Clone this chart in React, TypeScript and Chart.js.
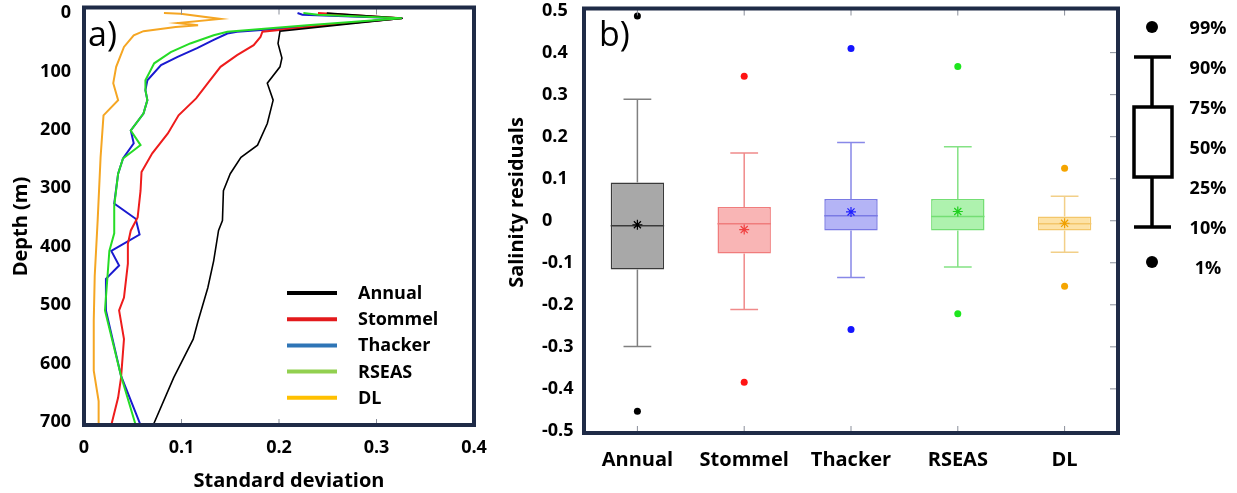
import React, { useEffect, useRef } from 'react';
import { Chart, registerables } from 'chart.js';
Chart.register(...registerables);

const FONT = '"Open Sans", "DejaVu Sans", sans-serif';
const FRAME = '#1f2b47';

// ---------- Panel a: standard deviation profiles ----------
const depthTickValues = [0, 100, 200, 300, 400, 500, 600, 700];
const depthTickLabels = ['0', '100', '200', '300', '400', '500', '600', '700'];
const sdTickValues = [0, 0.1, 0.2, 0.3, 0.4];
const sdTickLabels = ['0', '0.1', '0.2', '0.3', '0.4'];

const profileNames = ['Annual', 'Stommel', 'Thacker', 'RSEAS', 'DL'];
const profileLineColors = ['#000000', '#ee1c1c', '#1a1ad0', '#26dc26', '#f5a623'];
const profileLegendColors = ['#000000', '#e31a1c', '#2e75b6', '#92d050', '#ffc000'];

const annualDepth = [0, 9, 22, 31, 52, 77, 92, 120, 149, 189, 226, 247, 275, 304, 355, 372, 424, 470, 527, 558, 624, 705];
const annualSd = [0.249, 0.327, 0.252, 0.201, 0.199, 0.203, 0.201, 0.188, 0.194, 0.188, 0.178, 0.161, 0.150, 0.143, 0.142, 0.138, 0.133, 0.127, 0.117, 0.112, 0.092, 0.071];

const stommelDepth = [0, 9, 23, 32, 41, 55, 72, 92, 120, 146, 175, 206, 240, 272, 304, 350, 372, 395, 429, 487, 509, 558, 624, 658, 705];
const stommelSd = [0.240, 0.326, 0.235, 0.183, 0.181, 0.174, 0.157, 0.140, 0.127, 0.115, 0.097, 0.086, 0.070, 0.059, 0.058, 0.055, 0.048, 0.045, 0.045, 0.041, 0.036, 0.041, 0.038, 0.035, 0.028];

const thackerDepth = [0, 3, 9, 23, 32, 35, 46, 60, 75, 89, 115, 132, 149, 172, 201, 223, 249, 275, 326, 352, 379, 407, 432, 455, 509, 621, 705];
const thackerSd = [0.219, 0.224, 0.326, 0.232, 0.157, 0.147, 0.133, 0.116, 0.096, 0.079, 0.065, 0.063, 0.065, 0.061, 0.048, 0.051, 0.040, 0.035, 0.031, 0.053, 0.057, 0.028, 0.036, 0.0225, 0.0225, 0.038, 0.058];

const rseasDepth = [0, 3, 9, 21, 32, 38, 52, 67, 86, 115, 132, 149, 172, 201, 226, 249, 275, 330, 377, 407, 453, 509, 621, 705];
const rseasSd = [0.225, 0.240, 0.326, 0.229, 0.147, 0.133, 0.109, 0.089, 0.072, 0.063, 0.063, 0.065, 0.061, 0.048, 0.058, 0.040, 0.035, 0.031, 0.031, 0.026, 0.024, 0.0215, 0.038, 0.053];

const dlDepth = [0, 1, 10, 17, 21, 24, 31, 38, 58, 92, 120, 149, 175, 247, 355, 450, 527, 612, 664, 705];
const dlSd = [0.082, 0.099, 0.140, 0.096, 0.117, 0.094, 0.061, 0.051, 0.041, 0.033, 0.030, 0.035, 0.020, 0.017, 0.014, 0.011, 0.010, 0.010, 0.015, 0.015];

// ---------- Panel b: salinity residual box plots ----------
const categories = ['Annual', 'Stommel', 'Thacker', 'RSEAS', 'DL'];
const residualTickValues = [0.5, 0.4, 0.3, 0.2, 0.1, 0, -0.1, -0.2, -0.3, -0.4, -0.5];
const residualTickLabels = ['0.5', '0.4', '0.3', '0.2', '0.1', '0', '-0.1', '-0.2', '-0.3', '-0.4', '-0.5'];
const p99 = [0.487, 0.344, 0.410, 0.367, 0.125];
const p90 = [0.289, 0.161, 0.186, 0.176, 0.058];
const p75 = [0.091, 0.033, 0.052, 0.052, 0.010];
const p50 = [-0.012, -0.007, 0.012, 0.010, -0.007];
const meanVals = [-0.0095, -0.021, 0.021, 0.022, -0.006];
const p25 = [-0.116, -0.078, -0.023, -0.023, -0.023];
const p10 = [-0.299, -0.211, -0.135, -0.110, -0.075];
const p1 = [-0.453, -0.384, -0.259, -0.221, -0.156];

const boxFill = ['#a8a8a8', '#f9b5b5', '#b4b4f6', '#aef2ae', '#fde2a6'];
const boxEdge = ['#3a3a3a', '#f07c7c', '#7a7ae4', '#74de74', '#f3c66a'];
const whiskerColors = ['#808080', '#f08a8a', '#8888e8', '#84e284', '#f2cf88'];
const dotColors = ['#000000', '#ff1414', '#1414ff', '#1ee61e', '#f5a500'];
const meanColors = ['#000000', '#f04040', '#2020ff', '#20d020', '#f0a000'];

const legendLabels = ['99%', '90%', '75%', '50%', '25%', '10%', '1%'];

const LEFT_W = 495;
const RIGHT_W = 1237 - LEFT_W;

function drawFrame(ctx: CanvasRenderingContext2D, a: any) {
  ctx.save();
  ctx.strokeStyle = FRAME;
  ctx.lineWidth = 4;
  ctx.strokeRect(a.left, a.top, a.right - a.left, a.bottom - a.top);
  ctx.restore();
}

function zeroPad(s: any) {
  s.paddingTop = 0;
  s.paddingBottom = 0;
  s.paddingLeft = 0;
  s.paddingRight = 0;
}

const panelAPlugin = {
  id: 'panelA',
  afterDraw(chart: any) {
    const { ctx, chartArea: a, scales } = chart;
    const x = scales.x;
    ctx.save();
    ctx.strokeStyle = '#8a8f9a';
    ctx.lineWidth = 1;
    sdTickValues.slice(1, -1).forEach((v) => {
      const px = x.getPixelForValue(v);
      ctx.beginPath();
      ctx.moveTo(px, a.top);
      ctx.lineTo(px, a.top + 7);
      ctx.moveTo(px, a.bottom);
      ctx.lineTo(px, a.bottom - 6);
      ctx.stroke();
    });
    drawFrame(ctx, a);

    // legend
    profileNames.forEach((n, i) => {
      const ly = 293 + i * 26.2;
      ctx.strokeStyle = profileLegendColors[i];
      ctx.lineWidth = 4;
      ctx.beginPath();
      ctx.moveTo(287, ly);
      ctx.lineTo(337, ly);
      ctx.stroke();
      ctx.fillStyle = '#000';
      ctx.font = `bold 18px ${FONT}`;
      ctx.textAlign = 'left';
      ctx.textBaseline = 'alphabetic';
      ctx.fillText(n, 358, ly + 6);
    });

    // axis titles
    ctx.fillStyle = '#000';
    ctx.font = `bold 20px ${FONT}`;
    ctx.textAlign = 'center';
    ctx.textBaseline = 'alphabetic';
    ctx.fillText('Standard deviation', 289, 487);
    ctx.save();
    ctx.translate(27, 226.5);
    ctx.rotate(-Math.PI / 2);
    ctx.fillText('Depth (m)', 0, 0);
    ctx.restore();

    ctx.font = `34px ${FONT}`;
    ctx.textAlign = 'left';
    ctx.fillText('a)', 88, 46);
    ctx.restore();
  },
};

const panelBPlugin = {
  id: 'panelB',
  afterDatasetDraw(chart: any, args: any) {
    if (args.index !== 0) return;
    const { ctx, scales } = chart;
    const x = scales.x;
    const y = scales.y;
    const cw = x.getPixelForValue(1) - x.getPixelForValue(0);
    ctx.save();
    categories.forEach((_, i) => {
      const cx = x.getPixelForValue(i);
      const half = cw * 0.13;
      const y75 = y.getPixelForValue(p75[i]);
      const y90 = y.getPixelForValue(p90[i]);
      const y25 = y.getPixelForValue(p25[i]);
      const y10 = y.getPixelForValue(p10[i]);
      ctx.strokeStyle = whiskerColors[i];
      ctx.lineWidth = 1.5;
      ctx.beginPath();
      ctx.moveTo(cx, y75);
      ctx.lineTo(cx, y90);
      ctx.moveTo(cx - half, y90);
      ctx.lineTo(cx + half, y90);
      ctx.moveTo(cx, y25);
      ctx.lineTo(cx, y10);
      ctx.moveTo(cx - half, y10);
      ctx.lineTo(cx + half, y10);
      ctx.stroke();
      const bw = cw * 0.25;
      const ym = y.getPixelForValue(p50[i]);
      ctx.strokeStyle = boxEdge[i];
      ctx.beginPath();
      ctx.moveTo(cx - bw, ym);
      ctx.lineTo(cx + bw, ym);
      ctx.stroke();
    });
    ctx.restore();
  },
  afterDraw(chart: any) {
    const { ctx, chartArea: a, scales } = chart;
    const x = scales.x;
    const y = scales.y;
    ctx.save();
    ctx.strokeStyle = '#8a8f9a';
    ctx.lineWidth = 1;
    categories.forEach((_, i) => {
      const px = x.getPixelForValue(i);
      ctx.beginPath();
      ctx.moveTo(px, a.top);
      ctx.lineTo(px, a.top + 7);
      ctx.moveTo(px, a.bottom);
      ctx.lineTo(px, a.bottom - 7);
      ctx.stroke();
    });
    residualTickValues.slice(1, -1).forEach((v) => {
      const py = y.getPixelForValue(v);
      ctx.beginPath();
      ctx.moveTo(a.right, py);
      ctx.lineTo(a.right - 8, py);
      ctx.stroke();
    });
    drawFrame(ctx, a);

    ctx.fillStyle = '#000';
    ctx.font = `bold 20px ${FONT}`;
    ctx.textAlign = 'center';
    ctx.textBaseline = 'alphabetic';
    ctx.save();
    ctx.translate(523 - LEFT_W, 202.5);
    ctx.rotate(-Math.PI / 2);
    ctx.fillText('Salinity residuals', 0, 0);
    ctx.restore();

    ctx.font = `34px ${FONT}`;
    ctx.textAlign = 'left';
    ctx.fillText('b)', 599 - LEFT_W, 46);

    // box-plot key
    const kx = 1152 - LEFT_W;
    ctx.fillStyle = '#000';
    ctx.beginPath();
    ctx.arc(kx, 27, 6, 0, Math.PI * 2);
    ctx.fill();
    ctx.beginPath();
    ctx.arc(kx, 262, 6, 0, Math.PI * 2);
    ctx.fill();
    ctx.strokeStyle = '#000';
    ctx.lineWidth = 3.5;
    ctx.beginPath();
    ctx.moveTo(kx - 18, 57);
    ctx.lineTo(kx + 19, 57);
    ctx.moveTo(kx, 57);
    ctx.lineTo(kx, 107);
    ctx.moveTo(kx, 177);
    ctx.lineTo(kx, 227);
    ctx.moveTo(kx - 18, 227);
    ctx.lineTo(kx + 19, 227);
    ctx.stroke();
    ctx.strokeRect(kx - 18, 107, 38, 70);
    ctx.font = `bold 18px ${FONT}`;
    ctx.textAlign = 'center';
    const ly = [27, 67, 107, 147, 187, 227, 267];
    legendLabels.forEach((t, i) => {
      ctx.fillText(t, 1208 - LEFT_W, ly[i] + 6.5);
    });
    ctx.restore();
  },
};

export default function App() {
  const leftRef = useRef<HTMLCanvasElement>(null);
  const rightRef = useRef<HTMLCanvasElement>(null);

  useEffect(() => {
    const tickFont = { family: FONT, size: 18, weight: 'bold' as const };
    const profiles = [
      { d: annualDepth, s: annualSd, w: 1.6, order: 1 },
      { d: stommelDepth, s: stommelSd, w: 2, order: 2 },
      { d: thackerDepth, s: thackerSd, w: 2, order: 3 },
      { d: rseasDepth, s: rseasSd, w: 2, order: 0 },
      { d: dlDepth, s: dlSd, w: 2, order: 4 },
    ];
    const left = new Chart(leftRef.current!, {
      type: 'scatter',
      data: {
        datasets: profiles.map((p, i) => ({
          label: profileNames[i],
          data: p.d.map((d, j) => ({ x: p.s[j], y: d })),
          borderColor: profileLineColors[i],
          backgroundColor: profileLineColors[i],
          borderWidth: p.w,
          pointRadius: 0,
          showLine: true,
          tension: 0,
          order: p.order,
        })),
      },
      options: {
        animation: false,
        responsive: false,
        events: [],
        layout: { padding: { top: 7.5, right: LEFT_W - 474, left: 0, bottom: 0 } },
        plugins: { legend: { display: false }, tooltip: { enabled: false } },
        scales: {
          x: {
            type: 'linear',
            min: 0,
            max: 0.4,
            afterBuildTicks: (s: any) => {
              s.ticks = sdTickValues.map((v) => ({ value: v }));
            },
            afterFit: (s: any) => {
              s.height = 68;
              zeroPad(s);
            },
            ticks: {
              callback: (_v: any, i: number) => sdTickLabels[i],
              font: tickFont,
              color: '#000',
              padding: 12,
              maxRotation: 0,
              autoSkip: false,
            },
            grid: { display: false, drawTicks: false },
            border: { display: false },
          },
          y: {
            type: 'linear',
            reverse: true,
            min: -9.5,
            max: 705,
            afterBuildTicks: (s: any) => {
              s.ticks = depthTickValues.map((v) => ({ value: v }));
            },
            afterFit: (s: any) => {
              s.width = 84;
              zeroPad(s);
            },
            ticks: {
              callback: (_v: any, i: number) => depthTickLabels[i],
              font: tickFont,
              color: '#000',
              padding: 13,
              autoSkip: false,
            },
            grid: { display: false, drawTicks: false },
            border: { display: false },
          },
        },
      },
      plugins: [panelAPlugin],
    });

    const right = new Chart(rightRef.current!, {
      type: 'bar',
      data: {
        labels: categories,
        datasets: [
          {
            type: 'bar',
            data: categories.map((_, i) => [p25[i], p75[i]]),
            backgroundColor: boxFill,
            borderColor: boxEdge,
            borderWidth: 1.5,
            borderSkipped: false,
            barPercentage: 0.5,
            categoryPercentage: 1,
            order: 3,
          } as any,
          {
            type: 'line',
            data: meanVals,
            showLine: false,
            pointStyle: 'star',
            pointRadius: 5,
            pointBorderColor: meanColors,
            pointBackgroundColor: meanColors,
            pointBorderWidth: 1.2,
            order: 1,
          } as any,
          {
            type: 'line',
            data: p99,
            showLine: false,
            pointStyle: 'circle',
            pointRadius: 3.5,
            pointBorderColor: dotColors,
            pointBackgroundColor: dotColors,
            pointBorderWidth: 0,
            order: 2,
          } as any,
          {
            type: 'line',
            data: p1,
            showLine: false,
            pointStyle: 'circle',
            pointRadius: 3.5,
            pointBorderColor: dotColors,
            pointBackgroundColor: dotColors,
            pointBorderWidth: 0,
            order: 2,
          } as any,
        ],
      },
      options: {
        animation: false,
        responsive: false,
        events: [],
        layout: { padding: { top: 8.5, right: 1237 - 1118, left: 542 - LEFT_W, bottom: 0 } },
        plugins: { legend: { display: false }, tooltip: { enabled: false } },
        scales: {
          x: {
            type: 'category',
            offset: true,
            afterFit: (s: any) => {
              s.height = 60;
              zeroPad(s);
            },
            ticks: {
              font: { family: FONT, size: 20, weight: 'bold' },
              color: '#000',
              padding: 15,
              maxRotation: 0,
              autoSkip: false,
            },
            grid: { display: false, drawTicks: false },
            border: { display: false },
          },
          y: {
            type: 'linear',
            min: -0.505,
            max: 0.505,
            afterBuildTicks: (s: any) => {
              s.ticks = residualTickValues.map((v) => ({ value: v }));
            },
            afterFit: (s: any) => {
              s.width = 584 - 542;
              zeroPad(s);
            },
            ticks: {
              callback: (_v: any, i: number) => residualTickLabels[i],
              font: tickFont,
              color: '#000',
              crossAlign: 'far',
              padding: 8,
              autoSkip: false,
            },
            grid: { display: false, drawTicks: false },
            border: { display: false },
          },
        },
      },
      plugins: [panelBPlugin],
    });

    return () => {
      left.destroy();
      right.destroy();
    };
  }, []);

  return (
    <div style={{ position: 'absolute', left: 0, top: 0, width: 1237, height: 493, background: '#fff' }}>
      <canvas
        ref={leftRef}
        width={LEFT_W}
        height={493}
        style={{ position: 'absolute', left: 0, top: 0, width: LEFT_W, height: 493 }}
      />
      <canvas
        ref={rightRef}
        width={RIGHT_W}
        height={493}
        style={{ position: 'absolute', left: LEFT_W, top: 0, width: RIGHT_W, height: 493 }}
      />
    </div>
  );
}
